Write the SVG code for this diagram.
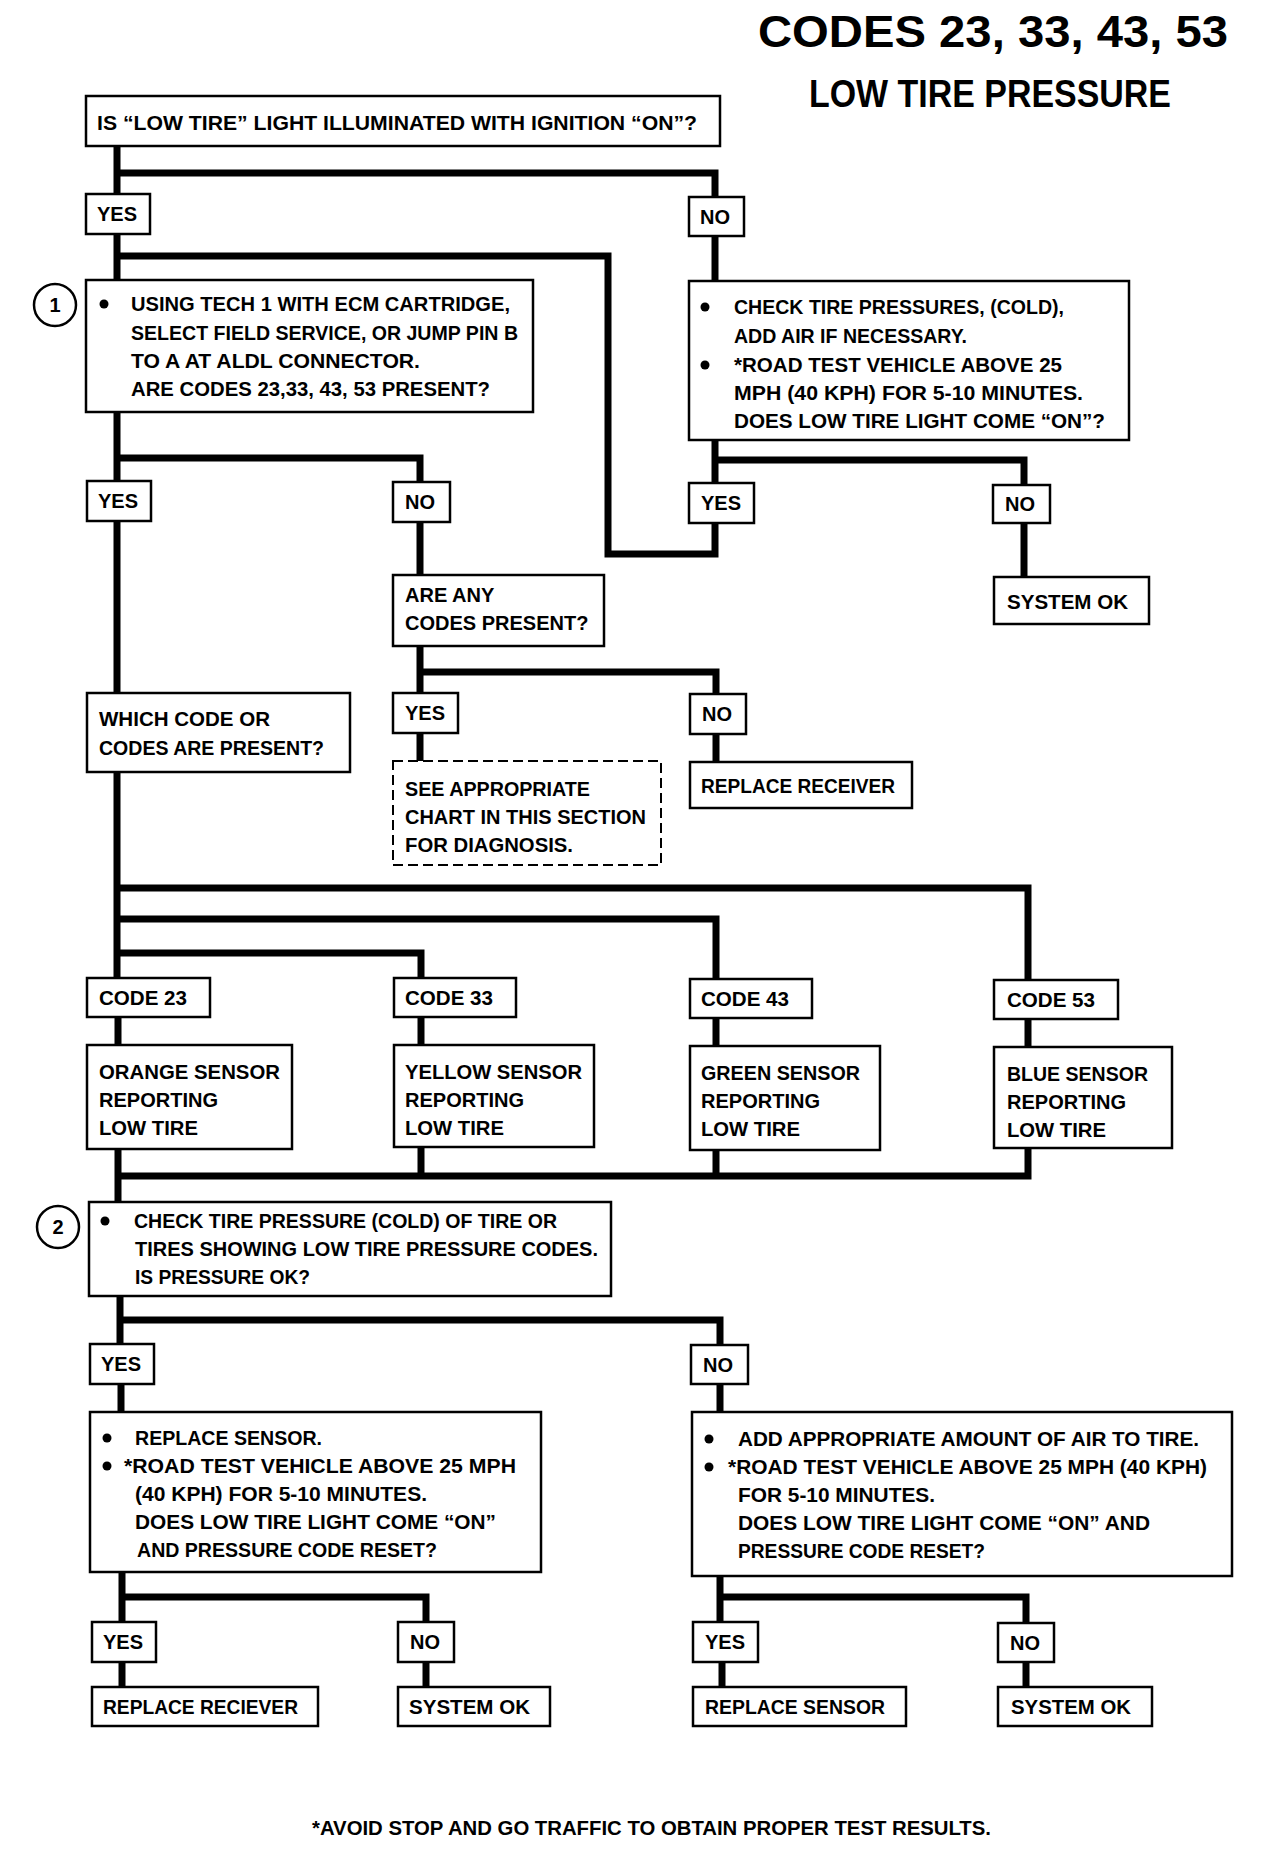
<svg xmlns="http://www.w3.org/2000/svg" width="1280" height="1860" viewBox="0 0 1280 1860">
<style>
.box{fill:#fff;stroke:#000;stroke-width:2.5}
.dash{fill:#fff;stroke:#000;stroke-width:2;stroke-dasharray:10 5}
.t{font-family:"Liberation Sans",Arial,sans-serif;font-weight:bold;font-size:20px;fill:#000}
.title{font-family:"Liberation Sans",Arial,sans-serif;font-weight:bold;fill:#000}
.conn{fill:none;stroke:#000;stroke-width:7;stroke-linejoin:miter;stroke-linecap:butt}
.circ{fill:#fff;stroke:#000;stroke-width:2.5}
.bul{fill:#000}
</style>
<rect width="1280" height="1860" fill="#fff"/>

<g id="connectors">
<path class="conn" d="M117,146 V194 M117,173 H715 V197"/>
<path class="conn" d="M117,234 V280 M117,256 H608 V554 H715 V523"/>
<path class="conn" d="M715,236 V281"/>
<path class="conn" d="M715,440 V483 M715,460 H1024 V485"/>
<path class="conn" d="M1024,523 V577"/>
<path class="conn" d="M117,412 V481 M117,458 H420 V482"/>
<path class="conn" d="M117,521 V693"/>
<path class="conn" d="M420,522 V575"/>
<path class="conn" d="M420,646 V693 M420,672 H716 V694"/>
<path class="conn" d="M420,733 V761"/>
<path class="conn" d="M716,734 V762"/>
<path class="conn" d="M117,772 V978 M117,888 H1028 V980 M117,919 H716 V979 M117,953 H421 V978"/>
<path class="conn" d="M118,1017 V1045 M421,1017 V1045 M716,1018 V1046 M1028,1019 V1047"/>
<path class="conn" d="M118,1149 V1202 M118,1176 H1028 V1148 M421,1147 V1176 M716,1150 V1176"/>
<path class="conn" d="M120,1296 V1344 M120,1320 H720 V1345"/>
<path class="conn" d="M121,1384 V1412"/>
<path class="conn" d="M720,1384 V1412"/>
<path class="conn" d="M122,1572 V1622 M122,1597 H426 V1622"/>
<path class="conn" d="M122,1662 V1687"/>
<path class="conn" d="M426,1662 V1687"/>
<path class="conn" d="M720,1576 V1622 M720,1597 H1026 V1623"/>
<path class="conn" d="M722,1662 V1687"/>
<path class="conn" d="M1026,1662 V1687"/>
</g>

<g id="title">
<text class="title" x="758" y="47" font-size="44" textLength="470" lengthAdjust="spacingAndGlyphs">CODES 23, 33, 43, 53</text>
<text class="title" x="809" y="107" font-size="38" textLength="362" lengthAdjust="spacingAndGlyphs">LOW TIRE PRESSURE</text>
</g>

<g id="q-light">
<rect class="box" x="86" y="96" width="634" height="50"/>
<text class="t" x="97" y="130" textLength="600" lengthAdjust="spacingAndGlyphs">IS “LOW TIRE” LIGHT ILLUMINATED WITH IGNITION “ON”?</text>
</g>

<g id="yes1"><rect class="box" x="86" y="194" width="64" height="40"/><text class="t" x="97" y="221">YES</text></g>
<g id="no1"><rect class="box" x="689" y="197" width="55" height="39"/><text class="t" x="700" y="224">NO</text></g>

<g id="step1">
<circle class="circ" cx="55" cy="305" r="21"/>
<text class="t" x="55" y="312" text-anchor="middle">1</text>
<rect class="box" x="86" y="280" width="447" height="132"/>
<circle class="bul" cx="104" cy="304" r="4.5"/>
<text class="t" x="131" y="311" textLength="379" lengthAdjust="spacingAndGlyphs">USING TECH 1 WITH ECM CARTRIDGE,</text>
<text class="t" x="131" y="340" textLength="387" lengthAdjust="spacingAndGlyphs">SELECT FIELD SERVICE, OR JUMP PIN B</text>
<text class="t" x="131" y="368" textLength="289" lengthAdjust="spacingAndGlyphs">TO A AT ALDL CONNECTOR.</text>
<text class="t" x="131" y="396" textLength="359" lengthAdjust="spacingAndGlyphs">ARE CODES 23,33, 43, 53 PRESENT?</text>
</g>

<g id="check-pressures">
<rect class="box" x="689" y="281" width="440" height="159"/>
<circle class="bul" cx="705" cy="307" r="4.5"/>
<circle class="bul" cx="705" cy="365" r="4.5"/>
<text class="t" x="734" y="314" textLength="330" lengthAdjust="spacingAndGlyphs">CHECK TIRE PRESSURES, (COLD),</text>
<text class="t" x="734" y="343" textLength="233" lengthAdjust="spacingAndGlyphs">ADD AIR IF NECESSARY.</text>
<text class="t" x="734" y="372" textLength="328" lengthAdjust="spacingAndGlyphs">*ROAD TEST VEHICLE ABOVE 25</text>
<text class="t" x="734" y="400" textLength="349" lengthAdjust="spacingAndGlyphs">MPH (40 KPH) FOR 5-10 MINUTES.</text>
<text class="t" x="734" y="428" textLength="371" lengthAdjust="spacingAndGlyphs">DOES LOW TIRE LIGHT COME “ON”?</text>
</g>

<g id="yes2"><rect class="box" x="87" y="481" width="64" height="40"/><text class="t" x="98" y="508">YES</text></g>
<g id="no2"><rect class="box" x="393" y="482" width="57" height="40"/><text class="t" x="405" y="509">NO</text></g>
<g id="yes3"><rect class="box" x="689" y="483" width="65" height="40"/><text class="t" x="701" y="510">YES</text></g>
<g id="no3"><rect class="box" x="993" y="485" width="57" height="38"/><text class="t" x="1005" y="511">NO</text></g>

<g id="system-ok-1"><rect class="box" x="994" y="577" width="155" height="47"/><text class="t" x="1007" y="609" textLength="121" lengthAdjust="spacingAndGlyphs">SYSTEM OK</text></g>

<g id="are-any">
<rect class="box" x="393" y="575" width="211" height="71"/>
<text class="t" x="405" y="602">ARE ANY</text>
<text class="t" x="405" y="630">CODES PRESENT?</text>
</g>

<g id="which-code">
<rect class="box" x="87" y="693" width="263" height="79"/>
<text class="t" x="99" y="726" textLength="171" lengthAdjust="spacingAndGlyphs">WHICH CODE OR</text>
<text class="t" x="99" y="755" textLength="225" lengthAdjust="spacingAndGlyphs">CODES ARE PRESENT?</text>
</g>

<g id="yes4"><rect class="box" x="393" y="693" width="65" height="40"/><text class="t" x="405" y="720">YES</text></g>
<g id="no4"><rect class="box" x="690" y="694" width="56" height="40"/><text class="t" x="702" y="721">NO</text></g>

<g id="see-chart">
<rect class="dash" x="393" y="761" width="268" height="104"/>
<text class="t" x="405" y="796" textLength="185" lengthAdjust="spacingAndGlyphs">SEE APPROPRIATE</text>
<text class="t" x="405" y="824" textLength="241" lengthAdjust="spacingAndGlyphs">CHART IN THIS SECTION</text>
<text class="t" x="405" y="852" textLength="168" lengthAdjust="spacingAndGlyphs">FOR DIAGNOSIS.</text>
</g>

<g id="replace-receiver-1"><rect class="box" x="690" y="762" width="222" height="46"/><text class="t" x="701" y="793" textLength="194" lengthAdjust="spacingAndGlyphs">REPLACE RECEIVER</text></g>

<g id="code23"><rect class="box" x="87" y="978" width="123" height="39"/><text class="t" x="99" y="1005" textLength="88" lengthAdjust="spacingAndGlyphs">CODE 23</text></g>
<g id="code33"><rect class="box" x="394" y="978" width="122" height="39"/><text class="t" x="405" y="1005" textLength="88" lengthAdjust="spacingAndGlyphs">CODE 33</text></g>
<g id="code43"><rect class="box" x="690" y="979" width="122" height="39"/><text class="t" x="701" y="1006" textLength="88" lengthAdjust="spacingAndGlyphs">CODE 43</text></g>
<g id="code53"><rect class="box" x="994" y="980" width="124" height="39"/><text class="t" x="1007" y="1007" textLength="88" lengthAdjust="spacingAndGlyphs">CODE 53</text></g>

<g id="orange">
<rect class="box" x="87" y="1045" width="205" height="104"/>
<text class="t" x="99" y="1079" textLength="181" lengthAdjust="spacingAndGlyphs">ORANGE SENSOR</text>
<text class="t" x="99" y="1107" textLength="119" lengthAdjust="spacingAndGlyphs">REPORTING</text>
<text class="t" x="99" y="1135" textLength="99" lengthAdjust="spacingAndGlyphs">LOW TIRE</text>
</g>
<g id="yellow">
<rect class="box" x="394" y="1045" width="200" height="102"/>
<text class="t" x="405" y="1079" textLength="177" lengthAdjust="spacingAndGlyphs">YELLOW SENSOR</text>
<text class="t" x="405" y="1107" textLength="119" lengthAdjust="spacingAndGlyphs">REPORTING</text>
<text class="t" x="405" y="1135" textLength="99" lengthAdjust="spacingAndGlyphs">LOW TIRE</text>
</g>
<g id="green">
<rect class="box" x="690" y="1046" width="190" height="104"/>
<text class="t" x="701" y="1080" textLength="159" lengthAdjust="spacingAndGlyphs">GREEN SENSOR</text>
<text class="t" x="701" y="1108" textLength="119" lengthAdjust="spacingAndGlyphs">REPORTING</text>
<text class="t" x="701" y="1136" textLength="99" lengthAdjust="spacingAndGlyphs">LOW TIRE</text>
</g>
<g id="blue">
<rect class="box" x="994" y="1047" width="178" height="101"/>
<text class="t" x="1007" y="1081" textLength="141" lengthAdjust="spacingAndGlyphs">BLUE SENSOR</text>
<text class="t" x="1007" y="1109" textLength="119" lengthAdjust="spacingAndGlyphs">REPORTING</text>
<text class="t" x="1007" y="1137" textLength="99" lengthAdjust="spacingAndGlyphs">LOW TIRE</text>
</g>

<g id="step2">
<circle class="circ" cx="58" cy="1227" r="21"/>
<text class="t" x="58" y="1234" text-anchor="middle">2</text>
<rect class="box" x="89" y="1202" width="522" height="94"/>
<circle class="bul" cx="105" cy="1221" r="4.5"/>
<text class="t" x="134" y="1228" textLength="423" lengthAdjust="spacingAndGlyphs">CHECK TIRE PRESSURE (COLD) OF TIRE OR</text>
<text class="t" x="135" y="1256" textLength="463" lengthAdjust="spacingAndGlyphs">TIRES SHOWING LOW TIRE PRESSURE CODES.</text>
<text class="t" x="135" y="1284" textLength="175" lengthAdjust="spacingAndGlyphs">IS PRESSURE OK?</text>
</g>

<g id="yes5"><rect class="box" x="90" y="1344" width="64" height="40"/><text class="t" x="101" y="1371">YES</text></g>
<g id="no5"><rect class="box" x="691" y="1345" width="57" height="39"/><text class="t" x="703" y="1372">NO</text></g>

<g id="replace-sensor-step">
<rect class="box" x="90" y="1412" width="451" height="160"/>
<circle class="bul" cx="107" cy="1438" r="4.5"/>
<circle class="bul" cx="107" cy="1466" r="4.5"/>
<text class="t" x="135" y="1445" textLength="187" lengthAdjust="spacingAndGlyphs">REPLACE SENSOR.</text>
<text class="t" x="124" y="1473" textLength="392" lengthAdjust="spacingAndGlyphs">*ROAD TEST  VEHICLE ABOVE 25  MPH</text>
<text class="t" x="135" y="1501" textLength="292" lengthAdjust="spacingAndGlyphs">(40 KPH) FOR 5-10 MINUTES.</text>
<text class="t" x="135" y="1529" textLength="361" lengthAdjust="spacingAndGlyphs">DOES LOW TIRE LIGHT COME “ON”</text>
<text class="t" x="137" y="1557" textLength="300" lengthAdjust="spacingAndGlyphs">AND PRESSURE CODE RESET?</text>
</g>

<g id="add-air-step">
<rect class="box" x="692" y="1412" width="540" height="164"/>
<circle class="bul" cx="709" cy="1439" r="4.5"/>
<circle class="bul" cx="709" cy="1467" r="4.5"/>
<text class="t" x="738" y="1446" textLength="461" lengthAdjust="spacingAndGlyphs">ADD APPROPRIATE AMOUNT OF AIR TO TIRE.</text>
<text class="t" x="728" y="1474" textLength="479" lengthAdjust="spacingAndGlyphs">*ROAD TEST  VEHICLE ABOVE 25 MPH (40 KPH)</text>
<text class="t" x="738" y="1502" textLength="197" lengthAdjust="spacingAndGlyphs">FOR 5-10 MINUTES.</text>
<text class="t" x="738" y="1530" textLength="412" lengthAdjust="spacingAndGlyphs">DOES LOW TIRE LIGHT COME “ON” AND</text>
<text class="t" x="738" y="1558" textLength="247" lengthAdjust="spacingAndGlyphs">PRESSURE CODE RESET?</text>
</g>

<g id="yes6"><rect class="box" x="92" y="1622" width="64" height="40"/><text class="t" x="103" y="1649">YES</text></g>
<g id="no6"><rect class="box" x="398" y="1622" width="56" height="40"/><text class="t" x="410" y="1649">NO</text></g>
<g id="yes7"><rect class="box" x="693" y="1622" width="65" height="40"/><text class="t" x="705" y="1649">YES</text></g>
<g id="no7"><rect class="box" x="998" y="1623" width="56" height="39"/><text class="t" x="1010" y="1650">NO</text></g>

<g id="replace-reciever-2"><rect class="box" x="92" y="1687" width="226" height="39"/><text class="t" x="103" y="1714" textLength="195" lengthAdjust="spacingAndGlyphs">REPLACE RECIEVER</text></g>
<g id="system-ok-2"><rect class="box" x="398" y="1687" width="152" height="39"/><text class="t" x="409" y="1714" textLength="121" lengthAdjust="spacingAndGlyphs">SYSTEM OK</text></g>
<g id="replace-sensor-2"><rect class="box" x="693" y="1687" width="213" height="39"/><text class="t" x="705" y="1714" textLength="180" lengthAdjust="spacingAndGlyphs">REPLACE SENSOR</text></g>
<g id="system-ok-3"><rect class="box" x="998" y="1687" width="154" height="39"/><text class="t" x="1011" y="1714" textLength="120" lengthAdjust="spacingAndGlyphs">SYSTEM OK</text></g>

<g id="footer">
<text class="t" x="312" y="1835" textLength="679" lengthAdjust="spacingAndGlyphs">*AVOID STOP AND GO TRAFFIC TO OBTAIN PROPER TEST RESULTS.</text>
</g>
</svg>
